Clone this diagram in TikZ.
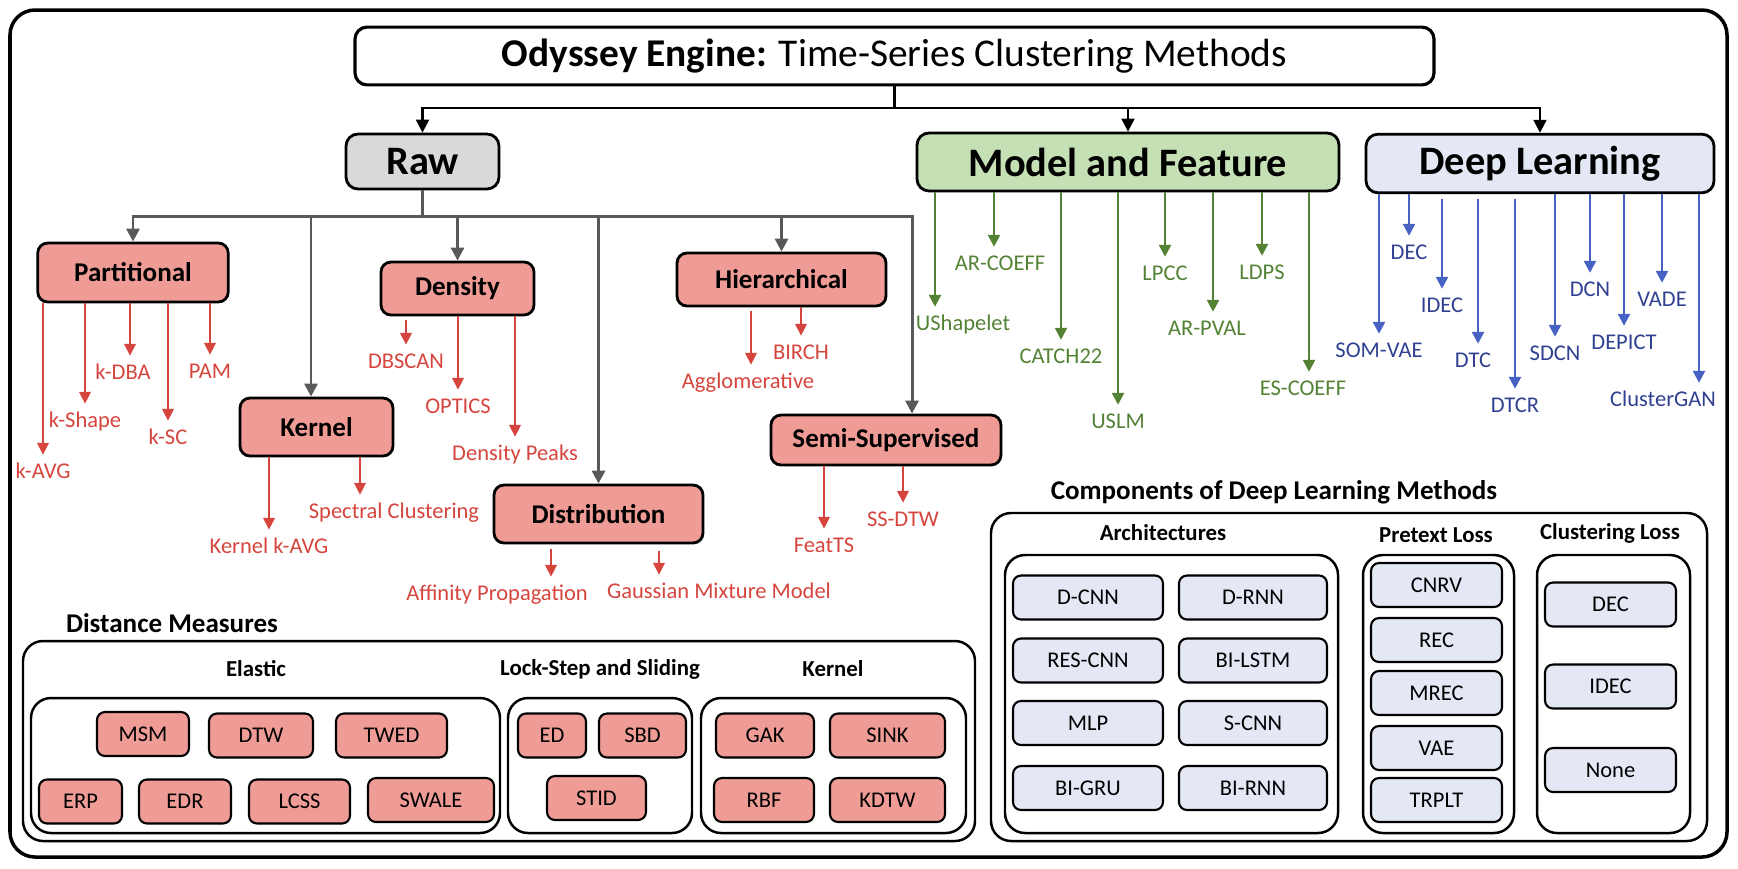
\documentclass[tikz,border=0pt]{standalone}
\usepackage{fontspec}
\setmainfont{Carlito}
\usepackage{xcolor}
\usetikzlibrary{arrows.meta}

\definecolor{redfill}{RGB}{240,156,150}
\definecolor{redtxt}{RGB}{214,69,61}
\definecolor{greenfill}{RGB}{197,224,180}
\definecolor{greentxt}{RGB}{84,130,53}
\definecolor{bluefill}{RGB}{228,232,245}
\definecolor{bluetxt}{RGB}{47,64,145}
\definecolor{blueline}{RGB}{72,98,196}
\definecolor{grayfill}{RGB}{217,217,217}
\definecolor{grayline}{RGB}{89,89,89}

\begin{document}
\begin{tikzpicture}[
    y=-1cm,
    font=\fontsize{6.4}{7.7}\selectfont,
    bigbox/.style={draw, line width=0.8pt, rounded corners=0.12cm, font=\fontsize{11.5}{13}\selectfont\bfseries},
    catbox/.style={draw, line width=0.8pt, rounded corners=0.1cm, fill=redfill, font=\fontsize{7.7}{9}\selectfont\bfseries},
    item/.style={draw, line width=0.6pt, rounded corners=0.08cm, minimum height=0.44cm},
    leaf/.style={inner sep=2pt, text height=1.6mm, text depth=0.5mm},
    panel/.style={line width=0.7pt, rounded corners=0.2cm},
    heading/.style={font=\fontsize{7.7}{9}\selectfont\bfseries},
    subhead/.style={font=\fontsize{6.5}{7.8}\selectfont\bfseries},
    bline/.style={draw=black, line width=0.6pt, -{Triangle[length=1.3mm,width=1.3mm]}},
    gline/.style={draw=grayline, line width=0.85pt, -{Triangle[length=1.3mm,width=1.3mm]}},
    rline/.style={draw=redtxt, line width=0.6pt, -{Triangle[length=1.2mm,width=1.15mm]}},
    vline/.style={draw=greentxt, line width=0.7pt, -{Triangle[length=1.2mm,width=1.2mm]}},
    uline/.style={draw=blueline, line width=0.7pt, -{Triangle[length=1.2mm,width=1.2mm]}},
]
\useasboundingbox (0,0) rectangle (17.38,8.68);

% Outer frame
\draw[line width=1pt, rounded corners=0.25cm] (0.10,0.10) rectangle (17.27,8.57);

% Title
\node[draw, line width=0.9pt, rounded corners=0.12cm, minimum width=10.79cm, minimum height=0.52cm,
      font=\fontsize{11.2}{13}\selectfont] (title) at (8.945,0.56)
    {\textbf{Odyssey Engine:} Time-Series Clustering Methods};

% Top level families
\node[bigbox, fill=grayfill, minimum width=1.53cm, minimum height=0.55cm] (raw) at (4.225,1.615) {Raw};
\node[bigbox, fill=greenfill, minimum width=4.22cm, minimum height=0.58cm] (mf) at (11.28,1.62) {Model and Feature};
\node[bigbox, fill=bluefill, minimum width=3.48cm, minimum height=0.57cm] (dl) at (15.40,1.635) {Deep Learning};

\coordinate (tbus) at (8.945,1.08);
\draw[bline] (title.south) -- (tbus) -| (raw.north);
\draw[bline] (tbus) -| (mf.north);
\draw[bline] (tbus) -| (dl.north);

% Raw sub-categories
\node[catbox, minimum width=1.905cm, minimum height=0.59cm] (part) at (1.33,2.725) {Partitional};
\node[catbox, minimum width=1.53cm, minimum height=0.58cm] (kern) at (3.165,4.27) {Kernel};
\node[catbox, minimum width=1.53cm, minimum height=0.53cm] (dens) at (4.575,2.885) {Density};
\node[catbox, minimum width=2.09cm, minimum height=0.58cm] (dist) at (5.985,5.14) {Distribution};
\node[catbox, minimum width=2.09cm, minimum height=0.53cm] (hier) at (7.815,2.795) {Hierarchical};
\node[catbox, minimum width=2.30cm, minimum height=0.50cm] (semi) at (8.86,4.40) {Semi-Supervised};

\coordinate (rbus) at (4.225,2.16);
\draw[gline] (raw.south) -- (rbus) -| (part.north);
\draw[gline] (rbus) -| ([xshift=-0.055cm]kern.north);
\draw[gline] (rbus) -| (dens.north);
\draw[gline] (rbus) -| (dist.north);
\draw[gline] (rbus) -| (hier.north);
\draw[gline] (rbus) -| ([xshift=0.26cm]semi.north);

% Raw methods
\foreach \nm/\up/\x/\y/\dx/\g/\txt in {
    kavg/part/0.43/4.73/0/0/k-AVG, kshape/part/0.85/4.22/0/0/k-Shape,
    kdba/part/1.23/3.74/0.07/0/k-DBA, ksc/part/1.68/4.39/0/0/k-SC,
    pam/part/2.10/3.73/0/0/PAM,
    kkavg/kern/2.69/5.48/0/0/Kernel k-AVG, spec/kern/3.94/5.13/-0.34/0/Spectral Clustering,
    dbscan/dens/4.06/3.63/0/0.04/DBSCAN, optics/dens/4.58/4.08/0/0/OPTICS,
    dpeaks/dens/5.15/4.55/0/0/Density Peaks,
    affprop/dist/4.97/5.95/0.54/0.05/Affinity Propagation,
    gmm/dist/7.19/5.93/-0.60/0.07/Gaussian Mixture Model,
    agglo/hier/7.48/3.83/0.03/0.04/Agglomerative, birch/hier/8.01/3.54/0/0/BIRCH,
    featts/semi/8.24/5.47/0/0/FeatTS, ssdtw/semi/9.03/5.21/0/0/SS-DTW} {
    \node[leaf, text=redtxt] (\nm) at (\x,\y) {\txt};
    \draw[rline, shorten <=\g cm] ([xshift=\dx cm]\nm.north |- \up.south) -- ([xshift=\dx cm]\nm.north);
}

% Model and feature methods
\foreach \nm/\x/\y/\dx/\txt in {
    ushape/9.63/3.25/-0.28/UShapelet, arcoeff/10.00/2.65/-0.06/AR-COEFF,
    catch/10.61/3.58/0/CATCH22, uslm/11.18/4.23/0/USLM,
    lpcc/11.65/2.75/0/LPCC, arpval/12.07/3.30/0.06/AR-PVAL,
    ldps/12.62/2.74/0/LDPS, escoeff/13.03/3.90/0.06/ES-COEFF} {
    \node[leaf, text=greentxt] (\nm) at (\x,\y) {\txt};
    \draw[vline] ([xshift=\dx cm]\nm.north |- mf.south) -- ([xshift=\dx cm]\nm.north);
}

% Deep learning methods
\foreach \nm/\x/\y/\dx/\g/\txt in {
    somvae/13.79/3.52/0/0/SOM-VAE, dec/14.09/2.54/0/0/DEC,
    idec/14.42/3.07/0/0.05/IDEC, dtc/14.73/3.62/0.05/0.05/DTC,
    dtcr/15.15/4.07/0/0.05/DTCR, sdcn/15.55/3.55/0/0/SDCN,
    dcn/15.90/2.91/0/0/DCN, depict/16.24/3.44/0/0/DEPICT,
    vade/16.62/3.01/0/0/VADE, cgan/16.63/4.01/0.36/0/ClusterGAN} {
    \node[leaf, text=bluetxt] (\nm) at (\x,\y) {\txt};
    \draw[uline, shorten <=\g cm] ([xshift=\dx cm]\nm.north |- dl.south) -- ([xshift=\dx cm]\nm.north);
}

% Distance measures
\node[heading] (dmhead) at (1.72,6.23) {Distance Measures};
\draw[panel] (0.23,6.41) rectangle (9.75,8.41);
\node[subhead] (elhead) at (2.56,6.69) {Elastic};
\node[subhead] (lshead) at (6.00,6.69) {Lock-Step and Sliding};
\node[subhead] (knhead) at (8.33,6.69) {Kernel};
\draw[panel] (0.31,6.98) rectangle (5.00,8.33);
\draw[panel] (5.08,6.98) rectangle (6.92,8.33);
\draw[panel] (7.01,6.98) rectangle (9.66,8.33);

\foreach \nm/\x/\y/\w/\txt in {
    msm/1.43/7.34/0.92/MSM, dtw/2.61/7.355/1.04/DTW, twed/3.915/7.355/1.11/TWED,
    erp/0.805/8.015/0.83/ERP, edr/1.85/8.015/0.92/EDR, lcss/2.995/8.015/1.01/LCSS,
    swale/4.31/8.00/1.26/SWALE,
    ed/5.52/7.355/0.68/ED, sbd/6.425/7.355/0.87/SBD, stid/5.965/7.98/0.99/STID,
    gak/7.65/7.355/0.98/GAK, sink/8.875/7.355/1.15/SINK,
    rbf/7.64/8.00/1.00/RBF, kdtw/8.875/8.00/1.15/KDTW} {
    \node[item, fill=redfill, minimum width=\w cm] (\nm) at (\x,\y) {\txt};
}

% Components of deep learning methods
\node[heading] (comphead) at (12.74,4.92) {Components of Deep Learning Methods};
\draw[panel] (9.91,5.13) rectangle (17.07,8.41);
\node[subhead] (archead) at (11.63,5.33) {Architectures};
\node[subhead] (prehead) at (14.36,5.35) {Pretext Loss};
\node[subhead] (clhead) at (16.10,5.33) {Clustering Loss};
\draw[panel] (10.05,5.55) rectangle (13.38,8.33);
\draw[panel] (13.63,5.55) rectangle (15.14,8.33);
\draw[panel] (15.37,5.55) rectangle (16.90,8.33);

\foreach \nm/\x/\y/\w/\txt in {
    dcnn/10.88/5.975/1.50/D-CNN, drnn/12.53/5.975/1.48/D-RNN,
    rescnn/10.88/6.605/1.50/RES-CNN, bilstm/12.53/6.605/1.48/BI-LSTM,
    mlp/10.88/7.23/1.50/MLP, scnn/12.53/7.23/1.48/S-CNN,
    bigru/10.88/7.88/1.50/BI-GRU, birnn/12.53/7.88/1.48/BI-RNN,
    cnrv/14.365/5.85/1.31/CNRV, rec/14.365/6.40/1.31/REC, mrec/14.365/6.93/1.31/MREC,
    vae/14.365/7.48/1.31/VAE, trplt/14.365/8.00/1.31/TRPLT,
    cdec/16.105/6.045/1.31/DEC, cidec/16.105/6.865/1.31/IDEC, cnone/16.105/7.70/1.31/None} {
    \node[item, fill=bluefill, minimum width=\w cm] (\nm) at (\x,\y) {\txt};
}

\end{tikzpicture}
\end{document}
